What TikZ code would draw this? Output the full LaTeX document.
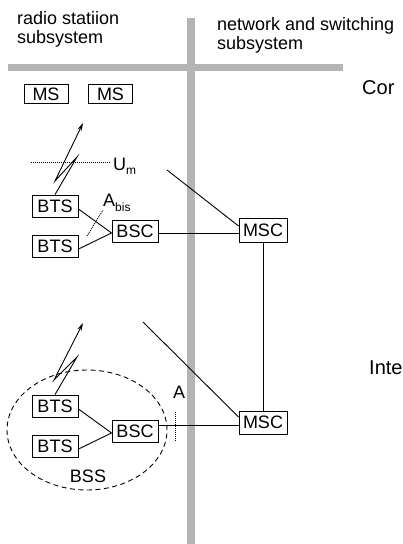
\documentclass[tikz,border=0pt]{standalone}
\usepackage{fontspec}
\setmainfont{Liberation Sans}
\usetikzlibrary{arrows.meta}
\definecolor{bargray}{RGB}{180,180,180}
\begin{document}
\begin{tikzpicture}[x=1pt,y=-1pt,
  box/.style={draw,line width=0.9pt,inner sep=0pt,minimum width=46pt,minimum height=22pt,font=\fontsize{18}{18}\selectfont},
  msbox/.style={box,minimum width=44pt,minimum height=19pt},
  lbl/.style={inner sep=0pt,anchor=base west,font=\fontsize{18}{20}\selectfont},
  big/.style={inner sep=0pt,anchor=base west,font=\fontsize{20}{22}\selectfont},
  conn/.style={line width=0.9pt},
  bar/.style={line width=8pt,draw=bargray},
  iface/.style={line width=0.9pt,dash pattern=on 1pt off 1pt},
  bolt/.style={conn,-{Stealth[length=8pt,width=4.5pt]}},
  sub/.style={font=\fontsize{12}{12}\selectfont}
]
\clip (0,0) rectangle (403,544);
\fill[white] (0,0) rectangle (403,544);

% gray separator bars
\coordinate (vtop) at (191,18);
\coordinate (vbot) at (191,544);
\coordinate (hl) at (8,67);
\coordinate (hr) at (343,67);
\draw[bar] (vtop) -- (vbot);
\draw[bar,line width=7pt] (hl) -- (hr);

% headers
\node[lbl] (hl1) at (17,24) {radio statiion};
\node[lbl] (hl2) at (17,43) {subsystem};
\node[lbl] (hr1) at (217,30) {network and switching};
\node[lbl] (hr2) at (217,49) {subsystem};
\node[big] (cor) at (362,94) {Cor};
\node[big] (inte) at (369,374) {Inte};

% mobile stations
\node[msbox] (ms1) at (46,94) {MS};
\node[msbox] (ms2) at (110.5,94) {MS};

% upper BSS
\node[box] (bts1) at (55,206) {BTS};
\node[box] (bts2) at (55,246) {BTS};
\node[box] (bsc1) at (135,231) {BSC};
\node[box,minimum width=48pt,minimum height=24pt] (msc1) at (263,230) {MSC};

% lower BSS
\node[box] (bts3) at (55,406) {BTS};
\node[box] (bts4) at (55,446) {BTS};
\node[box] (bsc2) at (135,431) {BSC};
\node[box,minimum width=48pt,minimum height=23pt] (msc2) at (263,422.5) {MSC};

% connections
\draw[conn] ([yshift=-3pt]bts1.east) -- ([yshift=-2pt]bsc1.west);
\draw[conn] ([yshift=-3pt]bts2.east) -- ([yshift=-2pt]bsc1.west);
\draw[conn] ([yshift=-2pt]bsc1.east) -- ([yshift=-2pt]bsc1.east -| msc1.west);
\draw[conn] ([yshift=-3pt]bts3.east) -- ([yshift=-2pt]bsc2.west);
\draw[conn] ([yshift=-3pt]bts4.east) -- ([yshift=-2pt]bsc2.west);
\draw[conn] ([yshift=-2.5pt]msc2.west -| bsc2.east) -- ([yshift=-2.5pt]msc2.west);
\draw[conn] (msc1.south) -- (msc2.north);

\coordinate (d1) at (167,170);
\coordinate (d2) at (143,322);
\draw[conn] (d1) -- ([yshift=4pt]msc1.west);
\draw[conn] (d2) -- ([yshift=5.5pt]msc2.west);

% radio links
\draw[bolt] (bts1.north) -- (77,157) -- (55,181) -- (83,123);
\draw[bolt] (bts3.north) -- (77,357) -- (54,380) -- (83,323);

% interfaces
\coordinate (um1) at (31,162);
\coordinate (um2) at (110,162);
\draw[iface] (um1) -- (um2);
\node[lbl] (um) at (113,170) {U\raisebox{-4pt}{\fontsize{12}{12}\selectfont m}};

\coordinate (ab1) at (87,236);
\coordinate (ab2) at (103,210);
\draw[iface] (ab1) -- (ab2);
\node[lbl] (abis) at (103,206) {A\raisebox{-5pt}{\fontsize{12}{12}\selectfont bis}};

\coordinate (a1) at (175,412);
\coordinate (a2) at (175,442);
\draw[iface] (a1) -- (a2);
\node[lbl] (alab) at (173,398) {A};

% BSS ellipse
\draw[line width=0.9pt,dash pattern=on 5pt off 3.5pt] (87,430) ellipse [x radius=80pt, y radius=60pt];
\node[lbl,anchor=base] (bss) at (88,482) {BSS};
\end{tikzpicture}
\end{document}
